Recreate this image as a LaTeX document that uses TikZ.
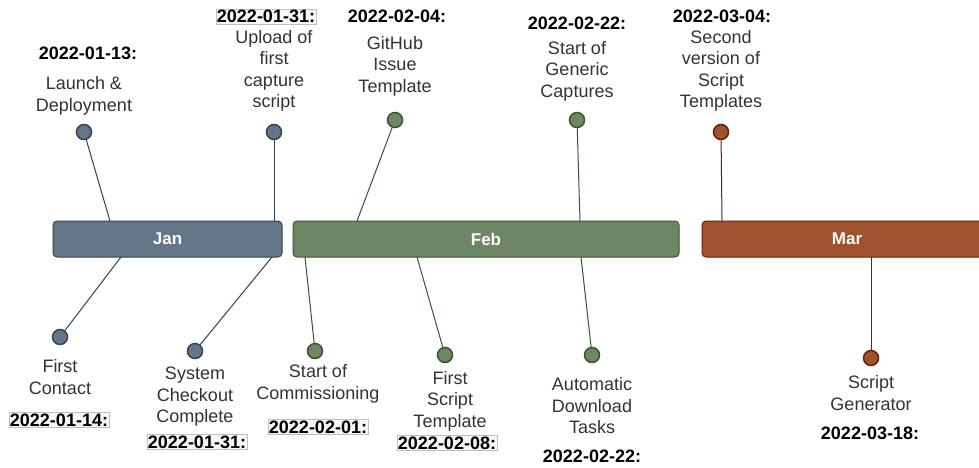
\documentclass[tikz,border=0pt]{standalone}
\usepackage{fontspec}
\setmainfont{Liberation Sans}
\definecolor{janfill}{HTML}{647687}
\definecolor{janline}{HTML}{314354}
\definecolor{febfill}{HTML}{6D8764}
\definecolor{febline}{HTML}{3A5431}
\definecolor{marfill}{HTML}{A0522D}
\definecolor{marline}{HTML}{6D1F00}
\begin{document}
\begin{tikzpicture}[x=1pt,y=-1pt,
  month/.style={draw=#1line, fill=#1fill, rounded corners=4pt, line width=1pt,
    text=white, font=\fontsize{17}{20}\selectfont\bfseries, inner sep=0pt,
    minimum height=36pt},
  dot/.style={circle, draw=#1line, fill=#1fill, line width=1.5pt,
    minimum size=15pt, inner sep=0pt},
  link/.style={draw=#1line, line width=1pt},
  evt/.style={align=center, font=\fontsize{18}{21.5}\selectfont, text=black!80, inner sep=0pt},
  date/.style={font=\fontsize{18}{21.5}\selectfont\bfseries, text=black, inner sep=0pt},
  datebox/.style={date, draw=black!25, fill=black!3, inner sep=1.2pt}
]
\clip (0,0) rectangle (979,467);
\fill[white] (0,0) rectangle (979,467);

% month bars
\node[month=jan, minimum width=229pt] (jan) at (167.5,239) {Jan};
\node[month=feb, minimum width=386pt] (feb) at (486,239) {Feb};
\node[month=mar, minimum width=290pt] (mar) at (847,239) {Mar};

% attachment points on the bars
\coordinate (a1) at (110,221);
\coordinate (a2) at (274,221);
\coordinate (a3) at (121,257);
\coordinate (a4) at (272,257);
\coordinate (a5) at (357,221);
\coordinate (a6) at (580,221);
\coordinate (a7) at (305,257);
\coordinate (a8) at (417,257);
\coordinate (a9) at (581,257);
\coordinate (a10) at (722,221);
\coordinate (a11) at (871,257);

% milestone dots
\node[dot=jan] (d1) at (84,132) {};
\node[dot=jan] (d2) at (274,132) {};
\node[dot=jan] (d3) at (60,337) {};
\node[dot=jan] (d4) at (195,351) {};
\node[dot=feb] (d5) at (395,120) {};
\node[dot=feb] (d6) at (577,120) {};
\node[dot=feb] (d7) at (315,351) {};
\node[dot=feb] (d8) at (445,355) {};
\node[dot=feb] (d9) at (592,355) {};
\node[dot=mar] (d10) at (721,132) {};
\node[dot=mar] (d11) at (871,358) {};

% stems
\draw[link=jan] (d1) -- (a1);
\draw[link=jan] (d2) -- (a2);
\draw[link=jan] (d3) -- (a3);
\draw[link=jan] (d4) -- (a4);
\draw[link=feb] (d5) -- (a5);
\draw[link=feb] (d6) -- (a6);
\draw[link=feb] (d7) -- (a7);
\draw[link=feb] (d8) -- (a8);
\draw[link=feb] (d9) -- (a9);
\draw[link=mar] (d10) -- (a10);
\draw[link=mar] (d11) -- (a11);

% labels above
\node[date] (t1) at (88,53) {2022-01-13:};
\node[evt] (e1) at (84,96) {Launch \&\\Deployment};
\node[datebox] (t2) at (266,16.5) {2022-01-31:};
\node[evt] (e2) at (274,71) {Upload of\\first\\capture\\script};
\node[date] (t3) at (397,16) {2022-02-04:};
\node[evt] (e3) at (395,66) {GitHub\\Issue\\Template};
\node[date] (t4) at (577,23) {2022-02-22:};
\node[evt] (e4) at (577,71) {Start of\\Generic\\Captures};
\node[date] (t5) at (722,16) {2022-03-04:};
\node[evt] (e5) at (721,71) {Second\\version of\\Script\\Templates};

% labels below
\node[evt] (e6) at (60,377) {First\\Contact};
\node[datebox] (t6) at (59,420) {2022-01-14:};
\node[evt] (e7) at (195,397) {System\\Checkout\\Complete};
\node[datebox] (t7) at (197,442) {2022-01-31:};
\node[evt] (e8) at (318,384) {Start of\\Commissioning};
\node[datebox] (t8) at (318,427) {2022-02-01:};
\node[evt] (e9) at (450,401) {First\\Script\\Template};
\node[datebox] (t9) at (447,443) {2022-02-08:};
\node[evt] (e10) at (592,406) {Automatic\\Download\\Tasks};
\node[date] (t10) at (592,456) {2022-02-22:};
\node[evt] (e11) at (871,393) {Script\\Generator};
\node[date] (t11) at (870,433) {2022-03-18:};
\end{tikzpicture}
\end{document}
